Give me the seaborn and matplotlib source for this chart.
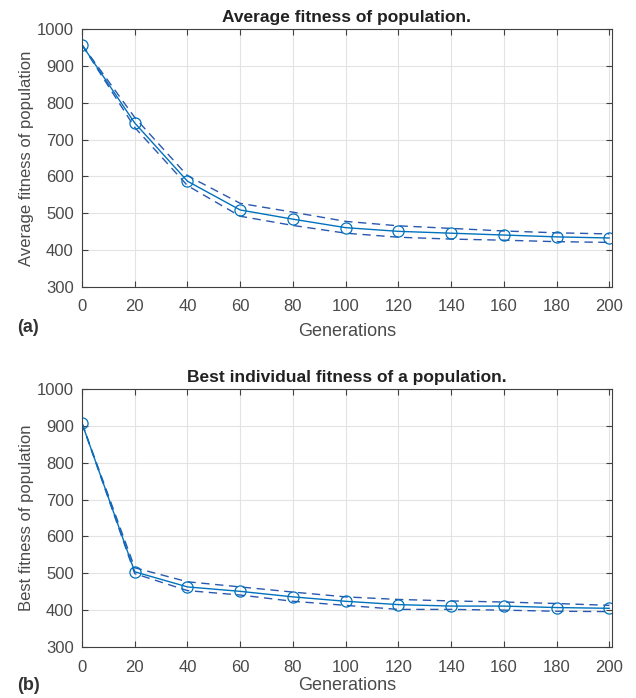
import matplotlib
matplotlib.use("Agg")
import matplotlib.pyplot as plt
import seaborn as sns
import pandas as pd

generations = [0, 20, 40, 60, 80, 100, 120, 140, 160, 180, 200]

avg_mean = [957, 745, 587, 509, 484, 461, 451, 446, 441, 436, 433]
avg_upper = [957, 760, 602, 527, 503, 478, 466, 459, 452, 447, 444]
avg_lower = [957, 733, 575, 492, 467, 446, 435, 430, 427, 423, 421]

best_mean = [907, 504, 463, 451, 436, 424, 415, 411, 411, 407, 405]
best_upper = [907, 515, 477, 463, 449, 436, 429, 425, 422, 418, 413]
best_lower = [907, 499, 453, 441, 424, 413, 402, 402, 400, 397, 396]

yticks = [300, 400, 500, 600, 700, 800, 900, 1000]
xticks = [0, 20, 40, 60, 80, 100, 120, 140, 160, 180, 200]

sns.set_theme(style="whitegrid")
plt.rcParams['font.family'] = ['Liberation Sans', 'DejaVu Sans']

solid_c = '#0072BD'
dash_c = '#2a58b0'
axis_c = '#404040'
text_c = '#4a4a4a'

fig = plt.figure(figsize=(6.36, 6.98), dpi=100)
W, H = 636, 698
ax1 = fig.add_axes([82 / W, 1 - 287 / H, 530 / W, 258 / H])
ax2 = fig.add_axes([82 / W, 1 - 647 / H, 530 / W, 258 / H])

panels = [
    (ax1, avg_mean, avg_upper, avg_lower, 'Average fitness of population.',
     'Average fitness of population', 6),
    (ax2, best_mean, best_upper, best_lower, 'Best individual fitness of a population.',
     'Best fitness of population', 2),
]

for ax, mean, up, lo, title, ylab, xpad in panels:
    df = pd.DataFrame({'g': generations, 'mean': mean, 'up': up, 'lo': lo})
    sns.lineplot(data=df, x='g', y='up', ax=ax, color=dash_c, linewidth=1.0,
                 linestyle=(0, (6, 4)))
    sns.lineplot(data=df, x='g', y='lo', ax=ax, color=dash_c, linewidth=1.0,
                 linestyle=(0, (6, 4)))
    sns.lineplot(data=df, x='g', y='mean', ax=ax, color=solid_c, linewidth=1.0,
                 marker='o', markersize=8, markerfacecolor='none',
                 markeredgecolor=solid_c, markeredgewidth=0.9)
    ax.set_xlim(0, 201)
    ax.set_ylim(300, 1000)
    ax.set_xticks(xticks)
    ax.set_yticks(yticks)
    ax.set_facecolor('white')
    ax.grid(True, color='#e3e3e3', linewidth=0.8)
    for s in ax.spines.values():
        s.set_color(axis_c)
        s.set_linewidth(0.8)
        s.set_visible(True)
    ax.tick_params(direction='in', length=4, width=0.8, color=axis_c,
                   top=True, right=True, bottom=True, left=True,
                   labelsize=12, labelcolor=text_c)
    ax.tick_params(axis='x', pad=9)
    ax.tick_params(axis='y', pad=6)
    ax.set_title(title, fontsize=12.5, fontweight='bold', color='#222222', pad=5)
    ax.set_ylabel(ylab, fontsize=12, color=text_c, labelpad=2)
    ax.set_xlabel('Generations', fontsize=13, color=text_c, labelpad=xpad)

fig.text(17 / W, 1 - 327 / H, '(a)', fontsize=13, fontweight='bold',
         color='#333333', va='center', ha='left')
fig.text(17 / W, 1 - 685 / H, '(b)', fontsize=13, fontweight='bold',
         color='#333333', va='center', ha='left')

fig.savefig('out.png', dpi=100, facecolor='white')
